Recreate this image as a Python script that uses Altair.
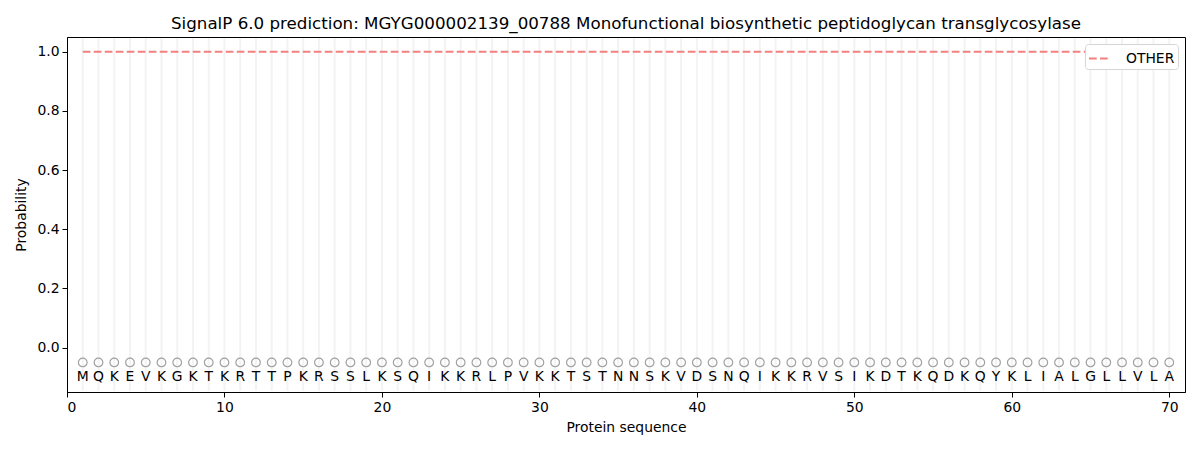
import altair as alt
import pandas as pd

sequence = list("MQKEVKGKTKRTTPKRSSLKSQIKKRLPVKKTSTNNSKVDSNQIKKRVSIKDTKQDKQYKLIALGLLVLA")
positions = list(range(1, len(sequence) + 1))
other_prob = [1.0, 1.0, 1.0, 1.0, 1.0, 1.0, 1.0, 1.0, 1.0, 1.0,
              1.0, 1.0, 1.0, 1.0, 1.0, 1.0, 1.0, 1.0, 1.0, 1.0,
              1.0, 1.0, 1.0, 1.0, 1.0, 1.0, 1.0, 1.0, 1.0, 1.0,
              1.0, 1.0, 1.0, 1.0, 1.0, 1.0, 1.0, 1.0, 1.0, 1.0,
              1.0, 1.0, 1.0, 1.0, 1.0, 1.0, 1.0, 1.0, 1.0, 1.0,
              1.0, 1.0, 1.0, 1.0, 1.0, 1.0, 1.0, 1.0, 1.0, 1.0,
              1.0, 1.0, 1.0, 1.0, 1.0, 1.0, 1.0, 1.0, 1.0, 1.0]
marker_y = -0.05
letter_y = -0.1
x_ticks = [0, 10, 20, 30, 40, 50, 60, 70]
y_ticks = [0.0, 0.2, 0.4, 0.6, 0.8, 1.0]
title_text = "SignalP 6.0 prediction: MGYG000002139_00788 Monofunctional biosynthetic peptidoglycan transglycosylase"

df = pd.DataFrame({
    "pos": positions,
    "aa": sequence,
    "prob": other_prob,
    "series": ["OTHER"] * len(sequence),
    "my": [marker_y] * len(sequence),
    "ly": [letter_y] * len(sequence),
    "top": [1.046] * len(sequence),
    "bot": [-0.146] * len(sequence),
})

FONT = "DejaVu Sans"
FS = 13.9
xscale = alt.Scale(domain=[0, 71], nice=False, zero=False)
yscale = alt.Scale(domain=[-0.15, 1.05], nice=False, zero=False)

xaxis = alt.Axis(values=x_ticks, title="Protein sequence", grid=False, labelAngle=0,
                 format="d", tickSize=5, labelFontSize=FS, titleFontSize=FS,
                 labelColor="black", titleColor="black", domainColor="black",
                 tickColor="black", labelFont=FONT, titleFont=FONT,
                 titleFontWeight="normal", titlePadding=7, labelPadding=3)
yaxis = alt.Axis(values=y_ticks, title="Probability", grid=False, format=".1f",
                 tickSize=5, labelFontSize=FS, titleFontSize=FS,
                 labelColor="black", titleColor="black", domainColor="black",
                 tickColor="black", labelFont=FONT, titleFont=FONT,
                 titleFontWeight="normal", titlePadding=8, labelPadding=3)

base = alt.Chart(df)

grid = base.mark_rule(color="#f3f3f3", strokeWidth=2).encode(
    x=alt.X("pos:Q", scale=xscale, axis=xaxis),
    y=alt.Y("top:Q", scale=yscale, axis=yaxis),
    y2="bot:Q",
)

line = base.mark_line(strokeWidth=2, strokeDash=[7.7, 3.3]).encode(
    x=alt.X("pos:Q", scale=xscale),
    y=alt.Y("prob:Q", scale=yscale),
    color=alt.Color("series:N",
                    scale=alt.Scale(domain=["OTHER"], range=["#f28080"]),
                    legend=alt.Legend(title=None, orient="top-right", offset=7,
                                      symbolType="stroke", symbolDash=[7.7, 3.3],
                                      symbolStrokeWidth=2, symbolSize=441,
                                      labelFontSize=FS, labelFont=FONT,
                                      labelColor="black", labelOffset=15,
                                      strokeColor="#d5d5d5",
                                      fillColor="white", padding=3,
                                      cornerRadius=3)),
)

points = base.mark_point(shape="circle", filled=False, color="#7a7a7a",
                         size=75, strokeWidth=1.2).encode(
    x=alt.X("pos:Q", scale=xscale),
    y=alt.Y("my:Q", scale=yscale),
)

letters = base.mark_text(fontSize=FS, font=FONT, color="black",
                         baseline="middle", align="center").encode(
    x=alt.X("pos:Q", scale=xscale),
    y=alt.Y("ly:Q", scale=yscale),
    text="aa:N",
)

chart = alt.layer(grid, line, points, letters).properties(
    width=1118,
    height=355,
    title=alt.TitleParams(title_text, fontSize=16.7, font=FONT, fontWeight="normal",
                          color="black", anchor="middle", offset=4),
    autosize=alt.AutoSizeParams(type="none"),
    padding={"left": 59, "top": 29, "right": 7, "bottom": 50},
).configure_view(stroke="black", strokeWidth=1)

chart.save("out.html", embed_options={"renderer": "svg", "actions": False})
